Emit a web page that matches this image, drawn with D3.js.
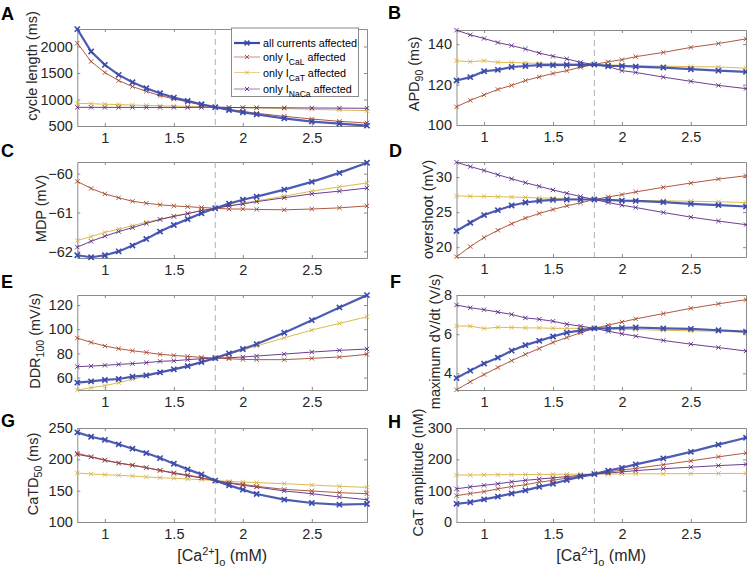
<!DOCTYPE html>
<html>
<head>
<meta charset="utf-8">
<script src="https://cdn.jsdelivr.net/npm/d3@7"></script>
<style>
  body { margin: 0; background: #fff; }
  svg { font-family: "Liberation Sans", Arial, Helvetica, sans-serif; }
</style>
</head>
<body>
<div id="chart"></div>
<script>
// extracellular calcium, mM
const caO = [0.8, 0.9, 1.0, 1.1, 1.2, 1.3, 1.4, 1.5, 1.6, 1.7, 1.8, 1.9, 2.0, 2.1, 2.3, 2.5, 2.7, 2.9];
const xTicks = [1, 1.5, 2, 2.5];

// A: cycle length (ms)
const clAll  = [2327, 1905, 1653, 1464, 1325, 1212, 1118, 1036, 973, 910, 855, 802, 758, 720, 645, 582, 544, 506];
const clCaL  = [2063, 1716, 1508, 1357, 1244, 1155, 1073, 1010, 954, 897, 855, 815, 777, 739, 683, 632, 588, 557];
const clCaT  = [928, 920, 912, 903, 895, 888, 881, 875, 869, 862, 855, 850, 845, 840, 829, 815, 802, 789];
const clNaCa = [852, 852, 851, 851, 851, 850, 850, 850, 849, 852, 855, 850, 848, 846, 843, 840, 837, 834];
// B: APD90 (ms)
const apdAll  = [122.0, 123.7, 126.6, 127.3, 128.7, 129.2, 129.6, 129.6, 129.7, 129.7, 129.9, 129.2, 129.2, 128.9, 128.4, 127.6, 126.9, 126.3];
const apdCaL  = [109.0, 112.2, 114.9, 117.6, 119.6, 122.0, 123.8, 125.5, 126.9, 128.6, 129.9, 131.3, 132.3, 133.8, 135.9, 138.4, 140.3, 142.6];
const apdCaT  = [131.8, 131.3, 131.8, 131.0, 130.9, 130.7, 130.5, 130.4, 130.2, 130.0, 129.9, 129.7, 129.6, 129.2, 129.1, 128.9, 128.7, 128.1];
const apdNaCa = [146.9, 144.6, 142.8, 140.8, 139.3, 137.6, 135.6, 134.0, 132.7, 131.0, 129.9, 128.9, 126.9, 126.0, 123.7, 121.6, 119.6, 118.0];
// C: MDP (mV)
const mdpAll  = [-62.10, -62.15, -62.10, -62.00, -61.85, -61.68, -61.49, -61.32, -61.17, -61.02, -60.89, -60.77, -60.67, -60.59, -60.41, -60.21, -59.98, -59.72];
const mdpCaL  = [-60.20, -60.38, -60.52, -60.62, -60.71, -60.76, -60.80, -60.83, -60.85, -60.87, -60.89, -60.91, -60.91, -60.92, -60.93, -60.91, -60.88, -60.83];
const mdpCaT  = [-61.72, -61.62, -61.51, -61.43, -61.34, -61.25, -61.17, -61.09, -61.02, -60.95, -60.89, -60.83, -60.76, -60.70, -60.58, -60.45, -60.34, -60.24];
const mdpNaCa = [-61.89, -61.74, -61.61, -61.49, -61.39, -61.28, -61.18, -61.10, -61.03, -60.95, -60.89, -60.83, -60.78, -60.72, -60.62, -60.52, -60.45, -60.37];
// D: overshoot (mV)
const osAll  = [22.31, 23.49, 24.58, 25.28, 25.94, 26.37, 26.60, 26.75, 26.80, 26.80, 26.80, 26.75, 26.65, 26.60, 26.42, 26.18, 25.99, 25.80];
const osCaL  = [18.63, 20.09, 21.37, 22.41, 23.35, 24.15, 24.81, 25.38, 25.90, 26.32, 26.80, 27.17, 27.50, 27.88, 28.54, 29.15, 29.72, 30.19];
const osCaT  = [27.31, 27.26, 27.24, 27.20, 27.15, 27.10, 27.02, 26.97, 26.88, 26.84, 26.80, 26.75, 26.70, 26.66, 26.61, 26.56, 26.47, 26.37];
const osNaCa = [32.12, 31.50, 30.94, 30.33, 29.76, 29.20, 28.68, 28.16, 27.69, 27.22, 26.80, 26.37, 25.99, 25.66, 24.95, 24.29, 23.73, 23.21];
// E: DDR100 (mV/s)
const ddrAll  = [55.8, 56.9, 58.0, 58.8, 60.7, 61.8, 64.3, 66.8, 69.5, 72.8, 76.1, 80.0, 83.6, 87.7, 97.1, 107.5, 118.0, 128.2];
const ddrCaL  = [92.7, 89.1, 86.1, 83.9, 82.2, 80.8, 79.2, 78.3, 77.5, 76.7, 76.1, 75.6, 75.0, 74.8, 74.8, 75.9, 77.0, 79.2];
const ddrCaT  = [49.7, 51.6, 53.3, 55.8, 58.5, 61.3, 64.0, 67.1, 69.8, 72.8, 76.1, 79.4, 82.8, 86.1, 92.9, 99.3, 104.8, 110.3];
const ddrNaCa = [69.0, 69.5, 70.1, 70.9, 71.5, 72.3, 73.4, 73.9, 74.8, 75.6, 76.1, 76.4, 77.0, 77.8, 79.4, 81.1, 82.5, 83.6];
// F: maximum dV/dt (V/s)
const dvAll  = [3.76, 4.14, 4.50, 4.80, 5.16, 5.44, 5.66, 5.88, 6.08, 6.19, 6.30, 6.30, 6.32, 6.34, 6.30, 6.27, 6.20, 6.13];
const dvCaL  = [3.16, 3.57, 3.94, 4.30, 4.65, 4.97, 5.27, 5.58, 5.83, 6.07, 6.30, 6.46, 6.62, 6.78, 7.05, 7.32, 7.55, 7.76];
const dvCaT  = [6.42, 6.41, 6.29, 6.35, 6.34, 6.32, 6.32, 6.30, 6.30, 6.30, 6.30, 6.27, 6.25, 6.24, 6.20, 6.17, 6.15, 6.10];
const dvNaCa = [7.49, 7.35, 7.25, 7.13, 7.01, 6.83, 6.76, 6.66, 6.51, 6.41, 6.30, 6.15, 6.02, 5.90, 5.68, 5.49, 5.32, 5.14];
// G: CaTD50 (ms)
const catdAll  = [243, 236, 231, 224, 217, 210, 202, 193, 184, 176, 166, 158.5, 151.6, 144.7, 135.6, 130.3, 127.7, 128.7];
const catdCaL  = [209.6, 204.3, 199, 194, 191, 186.7, 182.4, 178.7, 175, 170.7, 166, 162.8, 160.1, 156.9, 152.1, 149.5, 146.8, 145.2];
const catdCaT  = [178.2, 176.6, 175.5, 174.5, 173.4, 171.8, 170.7, 169.7, 168.6, 167.6, 166, 164.9, 163.8, 162.8, 161.2, 159, 156.9, 155.3];
const catdNaCa = [208, 203.7, 198.4, 194, 190.4, 186.7, 182.4, 177.7, 173.9, 170.2, 166, 162.2, 158.5, 155.9, 149.5, 145.2, 139.9, 135.6];
// H: CaT amplitude (nM)
const campAll  = [58, 63, 72, 81, 91, 101, 112, 122, 134, 145, 153, 164, 173, 184, 203, 224, 247, 269];
const campCaL  = [84, 91, 97, 106, 113, 119, 127, 133, 140, 147, 153, 159, 166, 171, 183, 195, 208, 220];
const campCaT  = [150, 150, 150.5, 151, 151, 151.5, 152, 152, 152.5, 153, 153, 153, 153.5, 154, 154, 154.5, 155, 155];
const campNaCa = [106, 112, 117, 122, 128, 133, 137, 141, 145, 149, 153, 156, 160, 164, 170, 175, 180, 184];

const seriesNames = ["all currents affected", "only I_CaL affected", "only I_CaT affected", "only I_NaCa affected"];
const colors = ["#3a4aaa", "#a5482c", "#d6b23e", "#5b2a86"];
const widths = [2.2, 1, 1, 1];

const W = 747, H = 569;
const svg = d3.select("#chart").append("svg").attr("width", W).attr("height", H);

const leftCol = { x0: 77.3, x1: 367 };
const rightCol = { x0: 456.5, x1: 746 };

const panels = [
  { letter: "A", col: leftCol, top: 29, bottom: 126, domain: [500, 2330], ticks: [500, 1000, 1500, 2000],
    data: [clAll, clCaL, clCaT, clNaCa], label: ["cycle length (ms)"], labelX: 37, labelY: 66, lx: 1, ly: 20 },
  { letter: "B", col: rightCol, top: 30, bottom: 125, domain: [100, 147], ticks: [100, 120, 140],
    data: [apdAll, apdCaL, apdCaT, apdNaCa], label: ["APD", "90", " (ms)"], labelX: 419, labelY: 74, lx: 388, ly: 19 },
  { letter: "C", col: leftCol, top: 162, bottom: 258, domain: [-62.17, -59.7], ticks: [-62, -61, -60],
    data: [mdpAll, mdpCaL, mdpCaT, mdpNaCa], label: ["MDP (mV)"], labelX: 46, labelY: 208.5, lx: 1, ly: 157 },
  { letter: "D", col: rightCol, top: 162, bottom: 257, domain: [18.6, 32.15], ticks: [20, 25, 30],
    data: [osAll, osCaL, osCaT, osNaCa], label: ["overshoot (mV)"], labelX: 433, labelY: 209.5, lx: 389, ly: 157 },
  { letter: "E", col: leftCol, top: 295, bottom: 390, domain: [49.7, 128.3], ticks: [60, 80, 100, 120],
    data: [ddrAll, ddrCaL, ddrCaT, ddrNaCa], label: ["DDR", "100", " (mV/s)"], labelX: 39.5, labelY: 341, lx: 1, ly: 288 },
  { letter: "F", col: rightCol, top: 295, bottom: 390, domain: [3.15, 8], ticks: [4, 6, 8],
    data: [dvAll, dvCaL, dvCaT, dvNaCa], label: ["maximum dV/dt (V/s)"], labelX: 440, labelY: 341.5, lx: 390, ly: 288 },
  { letter: "G", col: leftCol, top: 428, bottom: 522, domain: [100, 250], ticks: [100, 150, 200, 250],
    data: [catdAll, catdCaL, catdCaT, catdNaCa], label: ["CaTD", "50", " (ms)"], labelX: 38, labelY: 474, lx: 1, ly: 427, xlabel: true },
  { letter: "H", col: rightCol, top: 428, bottom: 522, domain: [0, 300], ticks: [0, 100, 200, 300],
    data: [campAll, campCaL, campCaT, campNaCa], label: ["CaT amplitude (nM)"], labelX: 423, labelY: 472.5, lx: 388, ly: 428, xlabel: true }
];

const axisColor = "#8a8a8a";
const textColor = "#262626";

function xMark(g, cx, cy, r, color, sw) {
  g.append("path")
    .attr("d", `M${cx - r},${cy - r}L${cx + r},${cy + r}M${cx - r},${cy + r}L${cx + r},${cy - r}`)
    .attr("stroke", color).attr("stroke-width", sw).attr("fill", "none");
}

panels.forEach(p => {
  const x = d3.scaleLinear().domain([0.8, 2.9]).range([p.col.x0, p.col.x1]);
  const y = d3.scaleLinear().domain(p.domain).range([p.bottom, p.top]);
  const g = svg.append("g");

  // box + inward ticks on all four sides
  const tk = 3;
  const axB = d3.axisBottom(x).tickValues(xTicks).tickSizeInner(-tk).tickSizeOuter(0).tickPadding(7).tickFormat(d3.format("~g"));
  const axT = d3.axisTop(x).tickValues(xTicks).tickSizeInner(-tk).tickSizeOuter(0).tickFormat("");
  const axL = d3.axisLeft(y).tickValues(p.ticks).tickSizeInner(-tk).tickSizeOuter(0).tickPadding(4.5).tickFormat(d3.format("~g"));
  const axR = d3.axisRight(y).tickValues(p.ticks).tickSizeInner(-tk).tickSizeOuter(0).tickFormat("");

  [[axB, `translate(0,${p.bottom})`], [axT, `translate(0,${p.top})`],
   [axL, `translate(${p.col.x0},0)`], [axR, `translate(${p.col.x1},0)`]].forEach(([ax, tr]) => {
    const a = g.append("g").attr("transform", tr).call(ax);
    a.select(".domain").attr("stroke", axisColor);
    a.selectAll(".tick line").attr("stroke", axisColor);
    a.selectAll(".tick text").attr("fill", textColor).style("font-size", "14.5px");
  });

  // dashed reference line at 1.8 mM
  g.append("line")
    .attr("x1", x(1.8)).attr("x2", x(1.8)).attr("y1", p.top).attr("y2", p.bottom)
    .attr("stroke", "#b0b0b0").attr("stroke-width", 1).attr("stroke-dasharray", "6,4");

  const line = d3.line().x((d, i) => x(caO[i])).y(d => y(d));
  // draw order: CaT, NaCa, CaL, then all on top
  [2, 3, 1, 0].forEach(k => {
    g.append("path").datum(p.data[k])
      .attr("d", line).attr("fill", "none")
      .attr("stroke", colors[k]).attr("stroke-width", widths[k]).attr("stroke-opacity", 0.9);
    p.data[k].forEach((v, i) => xMark(g, x(caO[i]), y(v), k === 0 ? 2.6 : 2.2, colors[k], k === 0 ? 1.6 : 0.9));
  });

  // y label
  const yl = g.append("text")
    .attr("transform", `translate(${p.labelX},${p.labelY}) rotate(-90)`)
    .attr("text-anchor", "middle").attr("fill", textColor).style("font-size", "14.5px");
  if (p.label.length === 1) {
    yl.text(p.label[0]);
  } else {
    yl.append("tspan").text(p.label[0]);
    yl.append("tspan").attr("dy", 4).style("font-size", "10.5px").text(p.label[1]);
    yl.append("tspan").attr("dy", -4).text(p.label[2]);
  }

  // panel letter
  svg.append("text").attr("x", p.lx).attr("y", p.ly)
    .style("font-size", "18px").style("font-weight", "bold").attr("fill", "#000").text(p.letter);

  if (p.xlabel) {
    const xl = g.append("text")
      .attr("x", (p.col.x0 + p.col.x1) / 2).attr("y", 561)
      .attr("text-anchor", "middle").attr("fill", textColor).style("font-size", "16px");
    xl.append("tspan").text("[Ca");
    xl.append("tspan").attr("dy", -6).style("font-size", "11px").text("2+");
    xl.append("tspan").attr("dy", 6).text("]");
    xl.append("tspan").attr("dy", 5).style("font-size", "11px").text("o");
    xl.append("tspan").attr("dy", -5).text(" (mM)");
  }

  // legend in panel A
  if (p.letter === "A") {
    const lg = g.append("g");
    lg.append("rect").attr("x", 231.5).attr("y", 28).attr("width", 127).attr("height", 68.5)
      .attr("fill", "#fff").attr("stroke", axisColor).attr("stroke-width", 1);
    const rowsY = [43, 57, 72.5, 89];
    seriesNames.forEach((name, k) => {
      const ry = rowsY[k];
      lg.append("line").attr("x1", 234).attr("x2", 260).attr("y1", ry).attr("y2", ry)
        .attr("stroke", colors[k]).attr("stroke-width", widths[k]).attr("stroke-opacity", k === 0 ? 1 : 0.6);
      xMark(lg, 247, ry, k === 0 ? 2.4 : 2, colors[k], k === 0 ? 1.5 : 0.9);
      const t = lg.append("text").attr("x", 263).attr("y", ry + 4)
        .attr("fill", "#000").style("font-size", "10.8px");
      if (name.indexOf("_") < 0) {
        t.text(name);
      } else {
        const sub = name.split("_")[1].split(" ")[0];
        t.append("tspan").text("only I");
        t.append("tspan").attr("dy", 4).style("font-size", "8.5px").text(sub);
        t.append("tspan").attr("dy", -4).text(" affected");
      }
    });
  }
});
</script>
</body>
</html>
